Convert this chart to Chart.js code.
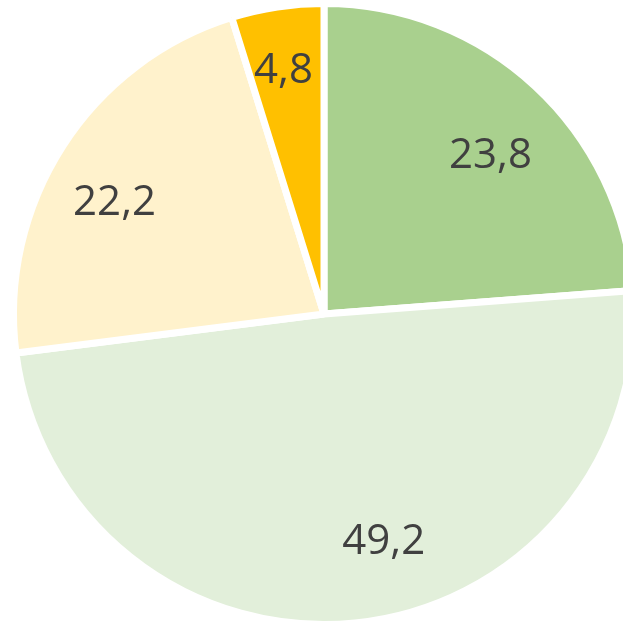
<!DOCTYPE html>
<html>
<head>
<meta charset="utf-8">
<script src="https://cdn.jsdelivr.net/npm/chart.js@4.4.1/dist/chart.umd.min.js"></script>
<style>
html,body{margin:0;padding:0;background:#fff;overflow:hidden;}
#wrap{position:absolute;left:0;top:0;width:648px;height:628px;}
</style>
</head>
<body>
<div id="wrap"><canvas id="c"></canvas></div>
<script>
const categories = ["A", "B", "C", "D"];
const values = [23.8, 49.2, 22.2, 4.8];
const valueLabels = ["23,8", "49,2", "22,2", "4,8"];
const colors = ["#A9D08E", "#E2EFDA", "#FFF2CC", "#FFC000"];

// label nudges (style only), pixels
const labelNudge = [[6, 15], [36, -7], [-11, 17], [-5, -10]];

const labelPlugin = {
  id: "sliceLabels",
  afterDatasetsDraw(chart) {
    const ctx = chart.ctx;
    const meta = chart.getDatasetMeta(0);
    ctx.save();
    ctx.font = "42px 'Open Sans', 'DejaVu Sans', sans-serif";
    ctx.fillStyle = "#404040";
    ctx.textAlign = "center";
    ctx.textBaseline = "middle";
    meta.data.forEach((arc, i) => {
      const p = arc.getProps(["x", "y", "startAngle", "endAngle", "outerRadius"], true);
      const mid = (p.startAngle + p.endAngle) / 2;
      const r = p.outerRadius * 0.76;
      const n = labelNudge[i];
      ctx.fillText(valueLabels[i], p.x + Math.cos(mid) * r + n[0], p.y + Math.sin(mid) * r + n[1]);
    });
    ctx.restore();
  }
};

new Chart(document.getElementById("c"), {
  type: "pie",
  data: {
    labels: categories,
    datasets: [{
      data: values,
      backgroundColor: colors,
      borderColor: "#ffffff",
      borderWidth: 7
    }]
  },
  options: {
    responsive: true,
    maintainAspectRatio: false,
    animation: false,
    layout: { padding: 0 },
    plugins: { legend: { display: false }, tooltip: { enabled: false } }
  },
  plugins: [labelPlugin]
});
</script>
</body>
</html>
